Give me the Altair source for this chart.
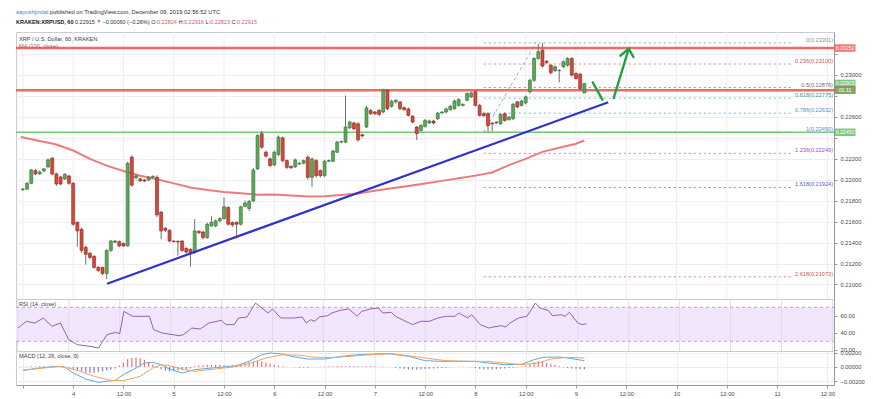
import altair as alt
import pandas as pd

FONT = "Liberation Sans"
W = 818
H_MAIN, H_RSI, H_MACD = 267, 52, 34
PX_PER_HOUR = 4.242

T0 = pd.Timestamp("2019-12-03 12:00:00", tz="UTC")


def ms(h):
    return int((T0 + pd.Timedelta(hours=float(h))).value // 1_000_000)


# ---------------- data (prices in 1e-5 USD), hourly candles from 2019-12-03 12:00 UTC ----------------
opens = [21904, 21909, 21964, 22085, 22053, 22082, 22120, 22203, 22053, 22024,
         22005, 22034, 21964, 21593, 21526, 21354, 21297, 21268, 21163, 21163,
         21105, 21325, 21402, 21408, 21392, 21367, 22213, 22015, 22005, 21995,
         21995, 22021, 22021, 21689, 21536, 21517, 21414, 21412, 21414, 21344,
         21335, 21309, 21507, 21500, 21447, 21558, 21558, 21606, 21629, 21734,
         21590, 21593, 21574, 21744, 21724, 21797, 22101, 22436, 22260, 22196,
         22139, 22237, 22397, 22180, 22125, 22120, 22148, 22155, 22213, 22021,
         22180, 22085, 22036, 22174, 22174, 22260, 22356, 22356, 22493, 22538,
         22531, 22426, 22500, 22658, 22643, 22658, 22643, 22850, 22697, 22739,
         22739, 22684, 22672, 22603, 22500, 22468, 22506, 22538, 22557, 22579,
         22633, 22643, 22665, 22675, 22706, 22706, 22755, 22787, 22835, 22706,
         22627, 22627, 22538, 22547, 22531, 22627, 22570, 22579, 22739, 22706,
         22729, 22835, 22945, 23153, 23233, 23127, 23089, 23036, 23036, 23074,
         23089, 23153, 23010, 23003, 22824]
closes = [21909, 21964, 22091, 22053, 22072, 22101, 22187, 22053, 21957, 21957,
          22050, 21964, 21574, 21510, 21325, 21287, 21258, 21163, 21134, 21105,
          21325, 21414, 21414, 21367, 21367, 22155, 21947, 22034, 21989, 21985,
          22021, 22030, 21663, 21510, 21517, 21414, 21408, 21405, 21325, 21309,
          21303, 21510, 21494, 21447, 21574, 21593, 21606, 21629, 21740, 21574,
          21567, 21574, 21740, 21775, 21791, 22091, 22419, 22308, 22222, 22132,
          22260, 22403, 22180, 22116, 22112, 22187, 22155, 22180, 22021, 22196,
          22036, 22036, 22174, 22180, 22270, 22356, 22362, 22500, 22547, 22483,
          22378, 22416, 22682, 22627, 22627, 22620, 22850, 22675, 22745, 22755,
          22675, 22665, 22611, 22547, 22436, 22515, 22563, 22557, 22538, 22633,
          22643, 22672, 22697, 22748, 22761, 22716, 22818, 22825, 22706, 22611,
          22608, 22515, 22531, 22541, 22620, 22563, 22595, 22716, 22691, 22748,
          22787, 22945, 23153, 23217, 23080, 23115, 23017, 23074, 23040, 23122,
          23153, 22994, 22962, 22866, 22915]
highs = [21920, 21975, 22100, 22100, 22085, 22110, 22200, 22215, 22065, 22035,
         22060, 22045, 21975, 21600, 21540, 21370, 21310, 21280, 21175, 21170,
         21335, 21425, 21425, 21420, 21400, 22170, 22230, 22045, 22015, 22005,
         22035, 22040, 22040, 21700, 21545, 21525, 21420, 21420, 21425, 21355,
         21345, 21622, 21515, 21510, 21590, 21650, 21620, 21640, 21830, 21745,
         21600, 21600, 21750, 21800, 21805, 22110, 22430, 22460, 22275, 22210,
         22275, 22420, 22410, 22190, 22135, 22200, 22165, 22190, 22230, 22210,
         22195, 22095, 22185, 22190, 22285, 22370, 22370, 22800, 22560, 22550,
         22545, 22435, 22700, 22670, 22655, 22670, 22865, 22860, 22760, 22765,
         22750, 22695, 22685, 22615, 22510, 22525, 22575, 22570, 22570, 22645,
         22650, 22685, 22710, 22760, 22775, 22725, 22830, 22835, 22850, 22720,
         22640, 22640, 22545, 22555, 22630, 22640, 22605, 22730, 22750, 22760,
         22800, 22960, 23165, 23290, 23301, 23135, 23100, 23085, 23050, 23135,
         23165, 23165, 23020, 23015, 22916]
lows = [21890, 21900, 21955, 22040, 22045, 22070, 22110, 22040, 21940, 21945,
        21995, 21950, 21560, 21360, 21300, 21190, 21240, 21150, 21120, 21090,
        21050, 21310, 21395, 21355, 21360, 21360, 21930, 22000, 21975, 21975,
        21985, 22010, 21640, 21430, 21500, 21400, 21400, 21275, 21310, 21295,
        21170, 21290, 21480, 21430, 21435, 21550, 21545, 21595, 21615, 21560,
        21550, 21440, 21560, 21735, 21700, 21785, 22090, 22290, 22210, 22120,
        22125, 22225, 22165, 22100, 22100, 22110, 22140, 22145, 22000, 21930,
        22020, 22020, 22025, 22165, 22165, 22250, 22345, 22345, 22480, 22470,
        22360, 22400, 22490, 22615, 22615, 22605, 22630, 22660, 22685, 22725,
        22660, 22655, 22600, 22535, 22375, 22455, 22495, 22530, 22525, 22565,
        22625, 22630, 22655, 22665, 22695, 22695, 22745, 22775, 22695, 22600,
        22595, 22450, 22455, 22530, 22520, 22550, 22560, 22565, 22680, 22695,
        22715, 22820, 22930, 23140, 23065, 23100, 23000, 23025, 22924, 23060,
        23075, 22980, 22950, 22850, 22823]

# MA(100) read at hour offsets from 2019-12-03 12:00
ma_hours = [-0.45, 4, 8, 12, 16, 20, 24, 28, 32, 36, 40, 44, 48, 52, 56, 60, 64, 68,
            72, 76, 80, 84, 88, 92, 96, 100, 104, 108, 112, 116, 120, 124, 128, 132, 134]
ma_vals = [22404, 22366, 22333, 22276, 22196, 22132, 22081, 22036, 22003, 21963,
           21924, 21901, 21882, 21869, 21855, 21856, 21847, 21837, 21840, 21852,
           21867, 21892, 21917, 21939, 21962, 21987, 22011, 22037, 22067, 22137,
           22196, 22263, 22302, 22340, 22371]

# RSI(14) read at candle numbers
rsi_idx = [1, 3, 5, 7, 9, 11, 13, 15, 18, 20, 22, 24, 25, 26, 28, 32, 33, 35, 39, 40,
           42, 44, 46, 49, 50, 52, 53, 55, 57, 59, 60, 61, 63, 66, 68, 69, 70, 71, 72, 74,
           75, 77, 79, 81, 82, 83, 84, 86, 87, 89, 90, 94, 96, 98, 100, 102, 104, 105, 107, 108,
           110, 112, 113, 115, 116, 117, 119, 121, 122, 123, 124, 126, 127, 129, 130, 131, 133, 134, 135]
rsi_val = [45.6, 53.5, 51.5, 57.4, 47.6, 51.5, 31.9, 26.0, 24.1, 22.1,
           37.8, 40.5, 39.0, 65.2, 59.4, 59.4, 43.7, 39.8, 36.6, 37.8,
           45.6, 44.5, 51.5, 54.7, 49.6, 49.6, 57.4, 58.6, 75.0, 67.2,
           63.3, 68.0, 57.4, 57.4, 58.6, 51.5, 55.4, 53.5, 58.6, 60.1,
           63.3, 66.4, 68.0, 59.4, 65.2, 66.4, 68.0, 69.2, 63.3, 64.1,
           59.4, 49.6, 53.5, 53.5, 57.4, 59.4, 59.4, 63.3, 57.4, 61.3,
           49.6, 45.6, 46.8, 48.4, 46.8, 51.5, 57.4, 59.4, 67.2, 75.0,
           69.2, 66.4, 60.1, 61.3, 59.4, 64.1, 51.5, 49.6, 50.7]

# MACD(12,26,9) in 1e-5 units
macd_idx = [1, 5, 9, 11, 13, 16, 19, 21, 23, 25, 28, 30, 32, 34, 36, 39, 42, 46, 49, 52,
            55, 58, 60, 63, 65, 69, 73, 77, 81, 87, 89, 93, 97, 101, 105, 109, 112, 116, 120, 123,
            125, 129, 131, 135]
macd_val = [-46, -14, 9, 0, -83, -166, -212, -198, -184, -106, -14, 55, 64, 32, -28, -83, -37, -14, 0, 18,
            78, 170, 193, 179, 147, 110, 110, 147, 170, 184, 179, 147, 87, 78, 78, 78, 55, 32, 37, 101,
            133, 138, 124, 87]
sig_idx = [1, 6, 10, 14, 18, 22, 25, 29, 32, 34, 36, 39, 42, 47, 51, 55, 59, 63, 67, 71,
           76, 83, 89, 93, 97, 102, 108, 112, 116, 120, 124, 127, 131, 135]
sig_val = [-46, -14, 9, -46, -129, -184, -189, -129, -14, 32, 18, -28, -60, -28, 0, 46, 124, 170, 161, 133,
           133, 166, 184, 156, 124, 87, 78, 78, 55, 32, 55, 110, 133, 124]
hist_val = [5, 8, 10, 12, 12, 10, 8, 6, 5, 3, 0, -10,
            -25, -45, -60, -75, -80, -78, -70, -60, -50, -35, -20,
            20, 60, 110, 125, 130, 120, 100, 70, 35,
            -10, -35, -50, -60, -58, -50, -40, -30, -20,
            10, 20, 25, 30, 30, 28, 30, 25, 20, 25, 30, 40, 50,
            65, 80, 85, 75, 60, 45, 30,
            20, 10, 5, 0, -5, -10, -8, -10, -5, 0, 5, 8, 10, 12, 15, 15, 12, 18, 15, 10, 8, 12, 15, 10, 5, 8, 5, 0,
            -10, -20, -28, -35, -38, -35, -30, -28, -25, -20, -18, -15, -10,
            -5, 0, 5, 5, 0, -5,
            -15, -25, -30, -35, -33, -30, -25, -20, -15, -10, -5, 5,
            20, 40, 65, 80, 75, 60, 45, 30, 15,
            -5, -15, -20, -25, -30, -30]

# Fibonacci retracement drawn from the 0.2245 low to the 0.23301 high
fib_ratio = ["0", "0.236", "0.5", "0.618", "0.786", "1", "1.236", "1.618", "2.618"]
fib_price = [0.23301, 0.23100, 0.22876, 0.22775, 0.22632, 0.22450, 0.22249, 0.21924, 0.21073]
fib_line_color = ["#9aa3b8", "#ef7f7f", "#d98080", "#6cc0b4", "#7fb4e8", "#7fb4e8", "#c486d6", "#8c92d6", "#ef7f7f"]
fib_text_color = ["#8a8f99", "#d9534f", "#6d6d6d", "#2e9e8c", "#4f8fd0", "#4f8fd0", "#a24cc2", "#5560c8", "#d9534f"]
fib_start_h = 110.0
fibbase_hours = [110.0, 122.4]
fibbase_price = [0.22450, 0.23301]

# horizontal support / resistance lines
h_levels = [0.23252, 0.22851, 0.22450]
h_colors = ["#ef5a5a", "#ef5a5a", "#6cbf6c"]
h_widths = [2.5, 2.5, 1.5]

# rising trend line
trend_hours = [20.1, 139.7]
trend_price = [0.21008, 0.22735]

# green projection arrow (segments)
arrow_seg = [0, 0, 1, 1, 2, 2, 2]
arrow_hours = [136.0, 138.3, 141.0, 144.6, 142.6, 144.6, 145.7]
arrow_price = [0.22926, 0.22760, 0.22776, 0.23246, 0.23179, 0.23246, 0.23167]

# price badges on the right axis
badge_price = [0.23252, 0.22915, 0.22851, 0.22450]
badge_color = ["#f03c3c", "#4caf50", "#f03c3c", "#4caf50"]
badge_shift = [0, -1, 7, 0]

price_ticks = [0.210, 0.212, 0.214, 0.216, 0.218, 0.220, 0.222, 0.224, 0.226, 0.228, 0.230, 0.232]
time_tick_hours = list(range(0, 193, 12))

# ---------------- frames ----------------
n = len(closes)
cdf = pd.DataFrame({
    "t": [ms(i) for i in range(n)],
    "o": [v / 1e5 for v in opens],
    "c": [v / 1e5 for v in closes],
    "h": [v / 1e5 for v in highs],
    "l": [v / 1e5 for v in lows],
})
up = cdf["c"] >= cdf["o"]
cdf["fill"] = ["#5ea85a" if u else "#d4493b" for u in up]
cdf["edge"] = ["#2f6e34" if u else "#8a231a" for u in up]

ma_df = pd.DataFrame({"t": [ms(h) for h in ma_hours], "v": [v / 1e5 for v in ma_vals]})
rsi_df = pd.DataFrame({"t": [ms(i - 1) for i in rsi_idx], "v": rsi_val})
macd_df = pd.DataFrame({"t": [ms(i - 1) for i in macd_idx], "v": [v / 1e5 for v in macd_val]})
sig_df = pd.DataFrame({"t": [ms(i - 1) for i in sig_idx], "v": [v / 1e5 for v in sig_val]})
hist_df = pd.DataFrame({"t": [ms(i) for i in range(len(hist_val))], "v": [v / 1e5 for v in hist_val]})
hist_df["z"] = 0.0
hist_df["col"] = ["#ef6f7f" if v >= 0 else "#7b7fd6" for v in hist_val]

fib_df = pd.DataFrame({
    "t": [ms(fib_start_h)] * len(fib_price),
    "v": fib_price,
    "lc": fib_line_color,
    "tc": fib_text_color,
    "label": [f"{r}({p:.5f})" for r, p in zip(fib_ratio, fib_price)],
})
fibbase_df = pd.DataFrame({"t": [ms(h) for h in fibbase_hours], "v": fibbase_price})
hl_df = pd.DataFrame({"v": h_levels, "col": h_colors, "w": h_widths})
trend_df = pd.DataFrame({"t": [ms(h) for h in trend_hours], "v": trend_price})
arrow_df = pd.DataFrame({"seg": arrow_seg, "t": [ms(h) for h in arrow_hours], "v": arrow_price})
badge_df = pd.DataFrame({"v": badge_price, "col": badge_color, "dy": badge_shift})
tick_df = pd.DataFrame({"t": [ms(h) for h in time_tick_hours]})
dummy = pd.DataFrame({"a": [0]})

# ---------------- scales & axes ----------------
xs = alt.Scale(type="utc", domain=[ms(-0.45), ms(-0.45 + W / PX_PER_HOUR)])
tick_ms = [ms(h) for h in time_tick_hours]
GRID = "#eceef2"
AX_FS = 5.8
x_axis_bottom = alt.Axis(
    values=tick_ms, grid=True, gridColor=GRID, title=None, labelFontSize=AX_FS, labelColor="#4a4a4a",
    tickSize=3, tickColor="#9a9a9a", domainColor="#9a9a9a", labelPadding=2,
    labelExpr=f"datum.value < {ms(6)} ? '' : (utcFormat(datum.value, '%H') == '00' ? utcFormat(datum.value, '%-d') : '12:00')",
)

ys_main = alt.Scale(domain=[0.208619, 0.234048], nice=False, zero=False)
y_main_axis = alt.Axis(
    orient="right", values=price_ticks, format=".5f", grid=True, gridColor=GRID, title=None,
    labelFontSize=AX_FS, labelColor="#4a4a4a", tickSize=3, tickColor="#9a9a9a", domainColor="#9a9a9a",
    labelPadding=3,
    labelExpr="indexof(['0.22400','0.22800','0.23200'], datum.label) >= 0 ? '' : datum.label",
)
ys_rsi = alt.Scale(domain=[18.59, 79.76], nice=False, zero=False)
y_rsi_axis = alt.Axis(orient="right", values=[20, 40, 60], format=".2f", grid=False, title=None,
                      labelFontSize=AX_FS, labelColor="#4a4a4a", tickSize=3, tickColor="#9a9a9a",
                      domainColor="#9a9a9a", labelPadding=3)
ys_macd = alt.Scale(domain=[-0.002483, 0.002207], nice=False, zero=False)
y_macd_axis = alt.Axis(orient="right", values=[0.002, 0.0, -0.002], format=".5f", grid=True,
                       gridColor=GRID, title=None, labelFontSize=AX_FS, labelColor="#4a4a4a",
                       tickSize=3, tickColor="#9a9a9a", domainColor="#9a9a9a", labelPadding=3)


def XM(field, axis=None):
    return alt.X(f"{field}:T", scale=xs, axis=axis)


def YM(field):
    return alt.Y(f"{field}:Q", scale=ys_main, axis=y_main_axis)


def text_layer(x, y, s, color, size=5.6, bold=False, align="left"):
    return alt.Chart(dummy).mark_text(
        align=align, baseline="middle", fontSize=size, font=FONT, color=color,
        fontWeight="bold" if bold else "normal",
    ).encode(x=alt.value(x), y=alt.value(y), text=alt.value(s))


# ---------------- main price pane ----------------
main_vgrid = alt.Chart(tick_df).mark_rule(color=GRID, strokeWidth=1).encode(
    x=XM("t"), y=alt.value(0), y2=alt.value(H_MAIN))
fib_lines = alt.Chart(fib_df).mark_rule(strokeDash=[2, 3], strokeWidth=1).encode(
    x=XM("t"), x2=alt.value(775), y=YM("v"), color=alt.Color("lc:N", scale=None))
fib_labels = alt.Chart(fib_df).mark_text(align="right", baseline="middle", dy=-3, fontSize=5.6, font=FONT).encode(
    x=alt.value(W - 1), y=YM("v"), text="label:N", color=alt.Color("tc:N", scale=None))
fib_base = alt.Chart(fibbase_df).mark_line(strokeDash=[3, 3], strokeWidth=1, color="#a5a8ad").encode(
    x=XM("t"), y=YM("v"))
hlines = alt.Chart(hl_df).mark_rule(opacity=0.9).encode(
    x=alt.value(0), x2=alt.value(W), y=YM("v"), color=alt.Color("col:N", scale=None),
    strokeWidth=alt.StrokeWidth("w:Q", scale=None))
ma_line = alt.Chart(ma_df).mark_line(color="#ee7a7a", strokeWidth=2).encode(
    x=XM("t"), y=YM("v"))
wicks = alt.Chart(cdf).mark_rule(color="#6f7073", strokeWidth=1).encode(
    x=XM("t"), y=YM("l"), y2="h:Q")
bodies = alt.Chart(cdf).mark_bar(size=3, strokeWidth=0.6).encode(
    x=XM("t"), y=YM("o"), y2="c:Q",
    color=alt.Color("fill:N", scale=None), stroke=alt.Stroke("edge:N", scale=None))
trend = alt.Chart(trend_df).mark_line(color="#3232c8", strokeWidth=2.2).encode(
    x=XM("t"), y=YM("v"))
arrow = alt.Chart(arrow_df).mark_line(color="#1fa23f", strokeWidth=2.4, strokeCap="round").encode(
    x=XM("t"), y=YM("v"), detail="seg:N")
badges = alt.Chart(badge_df).mark_tick(orient="horizontal", size=21, thickness=7.5).encode(
    x=alt.value(W + 11), y=YM("v"), yOffset=alt.YOffset("dy:Q", scale=None),
    color=alt.Color("col:N", scale=None))
badge_txt = alt.Chart(badge_df).mark_text(color="white", fontSize=5.2, font=FONT, baseline="middle").encode(
    x=alt.value(W + 11), y=YM("v"), yOffset=alt.YOffset("dy:Q", scale=None), text=alt.Text("v:Q", format=".5f"))
countdown = alt.Chart(badge_df.iloc[[1]]).mark_tick(orient="horizontal", size=21, thickness=7, yOffset=6.5,
                                                    color="#4caf50").encode(x=alt.value(W + 11), y=YM("v"))
countdown_txt = alt.Chart(badge_df.iloc[[1]]).mark_text(color="white", fontSize=5.2, font=FONT, dy=6.5,
                                                        baseline="middle").encode(
    x=alt.value(W + 11), y=YM("v"), text=alt.value("01:11"))

L1, L2 = -19.8, -10
header = [
    text_layer(0, L1, "aayushjindal", "#2b8ae6", size=5.8),
    text_layer(33.8, L1, "published on TradingView.com, December 09, 2019 02:56:52 UTC", "#2a2e39", size=5.8),
    text_layer(0, L2, "KRAKEN:XRPUSD, 60", "#131722", size=5.5, bold=True),
    text_layer(59, L2, "0.22915", "#2a2e39", size=5.5),
    text_layer(80.5, L2, "▼", "#e0403c", size=4.8),
    text_layer(86.5, L2, "−0.00060 (−0.26%)", "#2a2e39", size=5.5),
    text_layer(135.2, L2, "O:", "#2a2e39", size=5.5),
    text_layer(141, L2, "0.22824", "#e0575b", size=5.5),
    text_layer(162.5, L2, "H:", "#2a2e39", size=5.5),
    text_layer(168, L2, "0.22916", "#e0575b", size=5.5),
    text_layer(189.5, L2, "L:", "#2a2e39", size=5.5),
    text_layer(194.1, L2, "0.22823", "#e0575b", size=5.5),
    text_layer(215.6, L2, "C:", "#2a2e39", size=5.5),
    text_layer(221.1, L2, "0.22915", "#e0575b", size=5.5),
    text_layer(3, 6.5, "XRP / U.S. Dollar, 60, KRAKEN", "#3a3e49"),
    text_layer(3, 14, "MA (100, close)", "#b0605c"),
]

main = alt.layer(
    main_vgrid, fib_lines, fib_base, hlines, ma_line, wicks, bodies, trend, arrow, fib_labels,
    badges, badge_txt, countdown, countdown_txt, *header,
).properties(width=W, height=H_MAIN)

# ---------------- RSI pane ----------------
band_df = pd.DataFrame({"top": [70.0], "bot": [30.0]})
rsi_lv = pd.DataFrame({"v": [70.0, 30.0]})


def YR(field):
    return alt.Y(f"{field}:Q", scale=ys_rsi, axis=y_rsi_axis)


rsi_band = alt.Chart(band_df).mark_rect(color="#f1e6fb").encode(
    x=alt.value(0), x2=alt.value(W), y=YR("top"), y2="bot:Q")
rsi_vgrid = alt.Chart(tick_df).mark_rule(color="#e2dbe9", strokeWidth=1).encode(
    x=XM("t"), y=alt.value(0), y2=alt.value(H_RSI))
rsi_dash = alt.Chart(rsi_lv).mark_rule(strokeDash=[3, 3], color="#b9a3cf", strokeWidth=1).encode(
    x=alt.value(0), x2=alt.value(W), y=YR("v"))
rsi_line = alt.Chart(rsi_df).mark_line(color="#9461b0", strokeWidth=1).encode(
    x=XM("t"), y=YR("v"))
rsi_chart = alt.layer(
    rsi_band, rsi_vgrid, rsi_dash, rsi_line, text_layer(3, 5, "RSI (14, close)", "#3a3e49"),
).properties(width=W, height=H_RSI)

# ---------------- MACD pane ----------------


def YD(field):
    return alt.Y(f"{field}:Q", scale=ys_macd, axis=y_macd_axis)


hist = alt.Chart(hist_df).mark_bar(size=1.2).encode(
    x=XM("t", x_axis_bottom), y=YD("v"), y2="z:Q", color=alt.Color("col:N", scale=None))
macd_line = alt.Chart(macd_df).mark_line(color="#5aaae6", strokeWidth=1).encode(
    x=XM("t", x_axis_bottom), y=YD("v"))
sig_line = alt.Chart(sig_df).mark_line(color="#f4a35c", strokeWidth=1).encode(
    x=XM("t", x_axis_bottom), y=YD("v"))
macd_chart = alt.layer(
    hist, macd_line, sig_line, text_layer(3, 5, "MACD (12, 26, close, 9)", "#3a3e49"),
).properties(width=W, height=H_MACD)

chart = alt.vconcat(main, rsi_chart, macd_chart, spacing=0, bounds="flush").properties(
    padding={"left": 6, "top": 0, "right": 0, "bottom": 0},
    background="white",
).configure_view(stroke="#c8cbd0").configure_axis(labelFont=FONT).configure_text(font=FONT)

chart.save("out.html", embed_options={"renderer": "svg", "actions": False})
